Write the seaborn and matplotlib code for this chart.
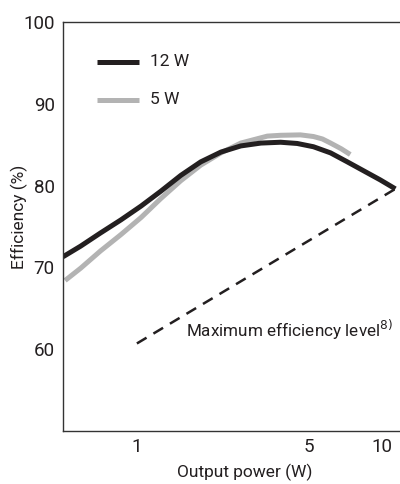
import matplotlib
matplotlib.use("Agg")
import matplotlib.pyplot as plt
import seaborn as sns
import pandas as pd

# ---- data ----
x_12w = [0.5, 0.59, 0.71, 0.86, 1.04, 1.25, 1.51, 1.82, 2.2, 2.65, 3.2, 3.85, 4.5, 5.24,
         6.15, 7.2, 8.4, 9.8, 11.3]
y_12w = [71.3, 72.6, 74.2, 75.8, 77.5, 79.3, 81.25, 82.9, 84.1, 84.85, 85.2, 85.3, 85.15, 84.75,
         84.0, 82.9, 81.8, 80.7, 79.6]

x_5w = [0.51, 0.59, 0.71, 0.86, 1.04, 1.25, 1.51, 1.82, 2.2, 2.65, 3.4, 3.85, 4.64, 5.24,
        5.7, 6.15, 6.8, 7.4]
y_5w = [68.4, 69.9, 72.0, 74.0, 76.1, 78.4, 80.6, 82.5, 84.0, 85.2, 86.05, 86.15, 86.2, 86.0,
        85.7, 85.2, 84.5, 83.8]

x_limit = [1.0, 11.3]
y_limit = [60.7, 79.6]

x_ticks = [1, 2, 3, 4, 5, 10]
x_ticklabels = ["1", "", "", "", "5", "10"]
y_ticks = [60, 70, 80, 90, 100]
y_ticklabels = ["60", "70", "80", "90", "100"]

series_names = ["12 W", "5 W"]
limit_label = "Maximum efficiency level"
limit_note = "8)"

sns.set_theme(style="white")
plt.rcParams["font.family"] = ["Roboto", "DejaVu Sans"]

TXT = "#231f20"
GRAY = "#b3b3b3"

fig = plt.figure(figsize=(4.0, 4.84), dpi=100)
ax = fig.add_axes([63 / 400, 53 / 484, 337 / 400, 409 / 484])

df = pd.concat([
    pd.DataFrame({"x": x_12w, "y": y_12w, "s": series_names[0]}),
    pd.DataFrame({"x": x_5w, "y": y_5w, "s": series_names[1]}),
])
sns.lineplot(data=df, x="x", y="y", hue="s", palette={series_names[0]: TXT, series_names[1]: GRAY},
             linewidth=3.6, ax=ax, sort=False, hue_order=series_names[::-1], legend=False)
for ln in ax.lines:
    ln.set_solid_capstyle("butt")
    ln.set_solid_joinstyle("round")
sns.lineplot(x=x_limit, y=y_limit, ax=ax, color=TXT, linewidth=1.8)
ax.lines[-1].set_dashes([4.5, 3.2])

ax.set_xscale("log")
ax.set_xlim(0.5, 11.8)
ax.set_ylim(50, 100)
ax.set_xticks(x_ticks)
ax.set_xticklabels(x_ticklabels)
ax.xaxis.set_minor_locator(matplotlib.ticker.NullLocator())
ax.set_yticks(y_ticks)
ax.set_yticklabels(y_ticklabels)
ax.tick_params(direction="in", length=5, width=1.5, colors=TXT, labelsize=13.5, pad=5)
ax.tick_params(axis="y", pad=6)

for side in ["left", "bottom", "top"]:
    ax.spines[side].set_color("#333333")
    ax.spines[side].set_linewidth(1.0)
ax.spines["right"].set_visible(False)

ax.set_xlabel("Output power (W)", fontsize=12.5, color=TXT)
ax.set_ylabel("Efficiency (%)", fontsize=12.5, color=TXT)
ax.xaxis.set_label_coords((245 - 63) / 337, (431 - 472) / 409)
ax.xaxis.label.set_va("center")
ax.yaxis.set_label_coords((19 - 63) / 337, (431 - 217) / 409)
ax.yaxis.label.set_va("center")

# legend drawn manually in axes coords
for i, (name, col) in enumerate(zip(series_names, [TXT, GRAY])):
    yy = 1 - (62 - 22 + i * 38) / 409
    ax.plot([(97 - 63) / 337, (139 - 63) / 337], [yy, yy], transform=ax.transAxes,
            color=col, linewidth=3.6, solid_capstyle="butt")
    ax.text((150 - 63) / 337, yy, name, transform=ax.transAxes, fontsize=12.5,
            color=TXT, va="center", ha="left")

ax.text(1.58, 62.3, limit_label + r"$^{\mathsf{8)}}$", fontsize=12.3, color=TXT,
        va="center", ha="left")

fig.savefig("out.png", dpi=100, facecolor="white")
